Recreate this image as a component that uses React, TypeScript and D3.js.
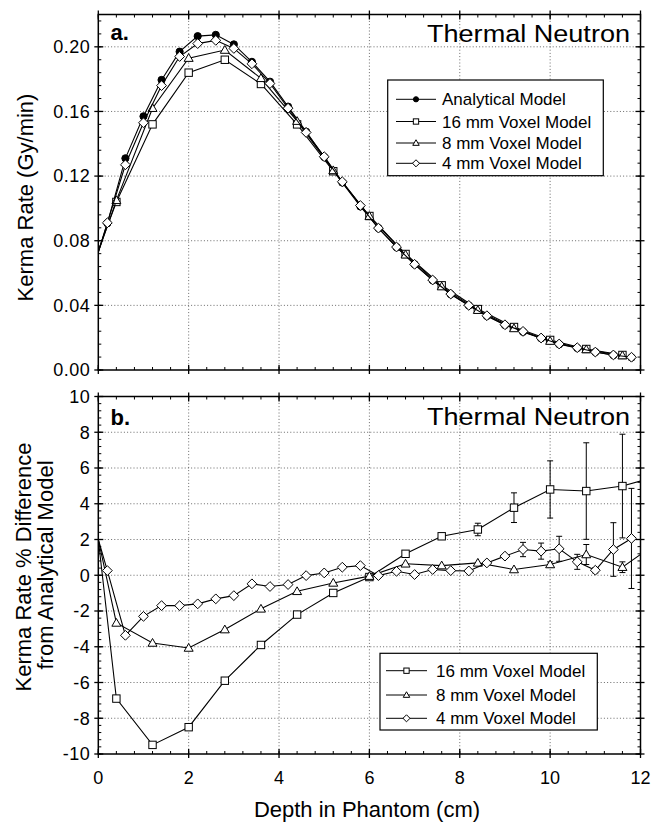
import React from "react";
import * as d3 from "d3";

// ---------- data ----------
const depthFine = [0, 0.2, 0.6, 1.0, 1.4, 1.8, 2.2, 2.6, 3.0, 3.4, 3.8, 4.2, 4.6, 5.0, 5.4, 5.8, 6.2, 6.6, 7.0, 7.4, 7.8, 8.2, 8.6, 9.0, 9.4, 9.8, 10.2, 10.6, 11.0, 11.4, 11.8];
const depthCoarse = [0, 0.4, 1.2, 2.0, 2.8, 3.6, 4.4, 5.2, 6.0, 6.8, 7.6, 8.4, 9.2, 10.0, 10.8, 11.6, 12.4];

const kermaAnalytical = [0.073, 0.0908, 0.131, 0.157, 0.1795, 0.197, 0.2066, 0.2074, 0.2015, 0.1907, 0.1784, 0.163, 0.1475, 0.1318, 0.116, 0.1012, 0.0878, 0.076, 0.0654, 0.0555, 0.0469, 0.0399, 0.0334, 0.0278, 0.0236, 0.0196, 0.0159, 0.0136, 0.0111, 0.0092, 0.0077];
const kerma4mm = [0.073, 0.0911, 0.127, 0.153, 0.176, 0.194, 0.202, 0.204, 0.199, 0.1895, 0.1773, 0.162, 0.147, 0.132, 0.1165, 0.1018, 0.0878, 0.0761, 0.0654, 0.0557, 0.047, 0.04, 0.0336, 0.028, 0.0239, 0.0198, 0.0161, 0.0138, 0.0111, 0.0093, 0.0079];
const kerma16mm = [0.074, 0.104, 0.152, 0.184, 0.192, 0.177, 0.152, 0.123, 0.0953, 0.0718, 0.0524, 0.0377, 0.0266, 0.0186, 0.013, 0.0093];
const kerma8mm = [0.073, 0.105, 0.162, 0.193, 0.198, 0.1805, 0.154, 0.1235, 0.0952, 0.0713, 0.0516, 0.037, 0.0257, 0.0179, 0.0127, 0.0089];

const diff16mm = [2.0, -6.9, -9.49, -8.5, -5.9, -3.9, -2.2, -0.99, -0.1, 1.2, 2.18, 2.56, 3.78, 4.8, 4.71, 4.99, 5.55];
const err16mm = [0, 0, 0, 0, 0, 0, 0, 0, 0, 0, 0, 0.35, 0.83, 1.6, 2.7, 2.9, 0];
const diff8mm = [2.0, -2.67, -3.79, -4.07, -3.04, -1.88, -0.9, -0.43, -0.05, 0.64, 0.54, 0.69, 0.32, 0.6, 1.16, 0.45, 1.87];
const err8mm = [0, 0, 0, 0, 0, 0, 0, 0, 0, 0, 0, 0, 0, 0.15, 0.56, 0.3, 0];
const diff4mm = [2.0, 0.26, -3.36, -2.3, -1.7, -1.7, -1.6, -1.32, -1.14, -0.48, -0.63, -0.52, -0.02, 0.13, 0.45, 0.54, -0.02, 0.22, 0.04, 0.32, 0.26, 0.24, 0.69, 1.07, 1.44, 1.35, 1.48, 0.75, 0.28, 1.44, 2.06];
const err4mm = [0, 0, 0, 0, 0, 0, 0, 0, 0, 0, 0, 0, 0, 0, 0, 0, 0, 0, 0, 0, 0, 0, 0, 0, 0.4, 0.45, 0.7, 0.42, 0.15, 1.5, 2.8];

const depthTicks = [0, 2, 4, 6, 8, 10, 12];
const kermaTicks = [0, 0.04, 0.08, 0.12, 0.16, 0.2];
const diffTicks = [-10, -8, -6, -4, -2, 0, 2, 4, 6, 8, 10];

const topLegend = ["Analytical Model", "16 mm Voxel Model", "8 mm Voxel Model", "4 mm Voxel Model"];
const bottomLegend = ["16 mm Voxel Model", "8 mm Voxel Model", "4 mm Voxel Model"];

// ---------- layout ----------
const W = 658, H = 823;
const FONT = "'Liberation Sans', Arial, Helvetica, sans-serif";
const x = d3.scaleLinear().domain([0, 12]).range([98.3, 640.5]);
const yTop = d3.scaleLinear().domain([0, 0.22]).range([370, 14.5]);
const yBot = d3.scaleLinear().domain([-10, 10]).range([754, 396.5]);

type Pt = { x: number; y: number; e: number };
const zip = (xs: number[], ys: number[], es?: number[]): Pt[] =>
  ys.map((v, i) => ({ x: xs[i], y: v, e: es ? es[i] : 0 }));

type MType = "circle" | "square" | "triangle" | "diamond";

function Marker({ type, cx, cy, k = 1 }: { type: MType; cx: number; cy: number; k?: number }) {
  const st = { stroke: "#000", strokeWidth: 1 };
  if (type === "circle") return <circle cx={cx} cy={cy} r={3.6 * k} fill="#000" {...st} />;
  if (type === "square") {
    const s = 3.7 * k;
    return <rect x={cx - s} y={cy - s} width={2 * s} height={2 * s} fill="#fff" {...st} />;
  }
  if (type === "triangle") {
    const s = 4.5 * k;
    return <path d={`M${cx},${cy - s}L${cx + s},${cy + s * 0.72}L${cx - s},${cy + s * 0.72}Z`} fill="#fff" {...st} />;
  }
  const s = 4.9 * k;
  return <path d={`M${cx},${cy - s}L${cx + s},${cy}L${cx},${cy + s}L${cx - s},${cy}Z`} fill="#fff" {...st} />;
}

function Series({ pts, y, type, clip }: { pts: Pt[]; y: d3.ScaleLinear<number, number>; type: MType; clip: string }) {
  const line = d3.line<Pt>().x((d) => x(d.x)).y((d) => y(d.y));
  return (
    <g clipPath={`url(#${clip})`}>
      <path d={line(pts) || ""} fill="none" stroke="#000" strokeWidth={1.1} />
      {pts.filter((d) => d.e > 0).map((d, i) => (
        <g key={"e" + i} stroke="#000" strokeWidth={1}>
          <line x1={x(d.x)} x2={x(d.x)} y1={y(d.y - d.e)} y2={y(d.y + d.e)} />
          <line x1={x(d.x) - 3} x2={x(d.x) + 3} y1={y(d.y - d.e)} y2={y(d.y - d.e)} />
          <line x1={x(d.x) - 3} x2={x(d.x) + 3} y1={y(d.y + d.e)} y2={y(d.y + d.e)} />
        </g>
      ))}
      {pts.filter((d) => d.x > 0).map((d, i) => (
        <Marker key={i} type={type} cx={x(d.x)} cy={y(d.y)} />
      ))}
    </g>
  );
}

function Frame({ y, ticks, minorStep, fmt, clip }: { y: d3.ScaleLinear<number, number>; ticks: number[]; minorStep: number; fmt: (v: number) => string; clip: string }) {
  const [x0, x1] = x.range();
  const [yb, yt] = y.range();
  const [d0, d1] = y.domain();
  const xMinor = d3.range(0, 12.0001, 0.4);
  const yMinor = d3.range(d0, d1 + 1e-9, minorStep);
  return (
    <g>
      <defs>
        <clipPath id={clip}>
          <rect x={x0} y={yt} width={x1 - x0} height={yb - yt} />
        </clipPath>
      </defs>
      {/* grid */}
      <g stroke="#444" strokeWidth={0.8} strokeDasharray="1 2.2">
        {depthTicks.slice(1, -1).map((t) => (
          <line key={"gx" + t} x1={x(t)} x2={x(t)} y1={yt} y2={yb} />
        ))}
        {ticks.filter((t) => t !== d0 && t !== d1).map((t) => (
          <line key={"gy" + t} x1={x0} x2={x1} y1={y(t)} y2={y(t)} />
        ))}
      </g>
      {/* minor ticks */}
      <g stroke="#000" strokeWidth={1}>
        {xMinor.map((t, i) => (
          <g key={"mx" + i}>
            <line x1={x(t)} x2={x(t)} y1={yb} y2={yb - 3} />
            <line x1={x(t)} x2={x(t)} y1={yt} y2={yt + 3} />
          </g>
        ))}
        {yMinor.map((t, i) => (
          <g key={"my" + i}>
            <line x1={x0} x2={x0 + 3} y1={y(t)} y2={y(t)} />
            <line x1={x1} x2={x1 - 3} y1={y(t)} y2={y(t)} />
          </g>
        ))}
      </g>
      {/* major ticks */}
      <g stroke="#000" strokeWidth={1.3}>
        {depthTicks.map((t) => (
          <g key={"tx" + t}>
            <line x1={x(t)} x2={x(t)} y1={yb + 4} y2={yb - 5} />
            <line x1={x(t)} x2={x(t)} y1={yt - 4} y2={yt + 5} />
          </g>
        ))}
        {ticks.map((t) => (
          <g key={"ty" + t}>
            <line x1={x0 - 4} x2={x0 + 5} y1={y(t)} y2={y(t)} />
            <line x1={x1 + 4} x2={x1 - 5} y1={y(t)} y2={y(t)} />
          </g>
        ))}
      </g>
      <rect x={x0} y={yt} width={x1 - x0} height={yb - yt} fill="none" stroke="#000" strokeWidth={1.5} />
      {/* y labels */}
      <g fontFamily={FONT} fontSize={18} textAnchor="end" fill="#000" letterSpacing={0.5}>
        {ticks.map((t) => (
          <text key={"ly" + t} x={x0 - 8} y={y(t) + 6.3}>{fmt(t)}</text>
        ))}
      </g>
    </g>
  );
}

function Legend({ x0, y0, w, h, rows, labels, types, sampleX, textX }: { x0: number; y0: number; w: number; h: number; rows: number[]; labels: string[]; types: MType[]; sampleX: [number, number]; textX: number }) {
  return (
    <g>
      <rect x={x0} y={y0} width={w} height={h} fill="#fff" stroke="#000" strokeWidth={1.2} />
      {labels.map((lab, i) => (
        <g key={lab}>
          <line x1={sampleX[0]} x2={sampleX[1]} y1={rows[i]} y2={rows[i]} stroke="#000" strokeWidth={1} />
          <Marker type={types[i]} cx={(sampleX[0] + sampleX[1]) / 2} cy={rows[i]} k={0.72} />
          <text x={textX} y={rows[i] + 6} fontFamily={FONT} fontSize={17} fill="#000">{lab}</text>
        </g>
      ))}
    </g>
  );
}

export default function App() {
  const fmtTop = d3.format(".2f");
  const fmtBot = (v: number) => String(v);
  return (
    <svg width={W} height={H} viewBox={`0 0 ${W} ${H}`} style={{ position: "absolute", left: 0, top: 0, background: "#fff" }}>
      <rect x={0} y={0} width={W} height={H} fill="#fff" />
      {/* ---- panel a ---- */}
      <Frame y={yTop} ticks={kermaTicks} minorStep={0.008} fmt={fmtTop} clip="clipA" />
      <Series pts={zip(depthFine, kermaAnalytical)} y={yTop} type="circle" clip="clipA" />
      <Series pts={zip(depthCoarse, kerma16mm)} y={yTop} type="square" clip="clipA" />
      <Series pts={zip(depthCoarse, kerma8mm)} y={yTop} type="triangle" clip="clipA" />
      <Series pts={zip(depthFine, kerma4mm)} y={yTop} type="diamond" clip="clipA" />
      <text x={110.5} y={40} fontFamily={FONT} fontWeight="bold" fontSize={22} fill="#000">a.</text>
      <text x={427} y={41.7} fontFamily={FONT} fontSize={23} fill="#000" textLength={203} lengthAdjust="spacingAndGlyphs">Thermal Neutron</text>
      <Legend x0={387.7} y0={80} w={215.6} h={95.7} rows={[99.3, 121.5, 143, 163.3]} labels={topLegend} types={["circle", "square", "triangle", "diamond"]} sampleX={[396, 436]} textX={442} />

      {/* ---- panel b ---- */}
      <Frame y={yBot} ticks={diffTicks} minorStep={0.4} fmt={fmtBot} clip="clipB" />
      <Series pts={zip(depthCoarse, diff16mm, err16mm)} y={yBot} type="square" clip="clipB" />
      <Series pts={zip(depthCoarse, diff8mm, err8mm)} y={yBot} type="triangle" clip="clipB" />
      <Series pts={zip(depthFine, diff4mm, err4mm)} y={yBot} type="diamond" clip="clipB" />
      <text x={110.5} y={425} fontFamily={FONT} fontWeight="bold" fontSize={22} fill="#000">b.</text>
      <text x={427} y={425} fontFamily={FONT} fontSize={23} fill="#000" textLength={203} lengthAdjust="spacingAndGlyphs">Thermal Neutron</text>
      <Legend x0={380} y0={653.3} w={217.3} h={76.7} rows={[670.7, 695, 718.3]} labels={bottomLegend} types={["square", "triangle", "diamond"]} sampleX={[386, 427]} textX={436} />

      {/* x tick labels */}
      <g fontFamily={FONT} fontSize={18} textAnchor="middle" fill="#000">
        {depthTicks.map((t) => (
          <text key={"lx" + t} x={x(t)} y={783.5}>{t}</text>
        ))}
      </g>
      {/* axis titles */}
      <text x={367} y={817} fontFamily={FONT} fontSize={22} textAnchor="middle" fill="#000">Depth in Phantom (cm)</text>
      <text transform="translate(33,197.5) rotate(-90)" fontFamily={FONT} fontSize={22} textAnchor="middle" fill="#000">Kerma Rate (Gy/min)</text>
      <text transform="translate(31,567) rotate(-90)" fontFamily={FONT} fontSize={22} textAnchor="middle" fill="#000">Kerma Rate % Difference</text>
      <text transform="translate(53,565) rotate(-90)" fontFamily={FONT} fontSize={22} textAnchor="middle" fill="#000">from Analytical Model</text>
    </svg>
  );
}
